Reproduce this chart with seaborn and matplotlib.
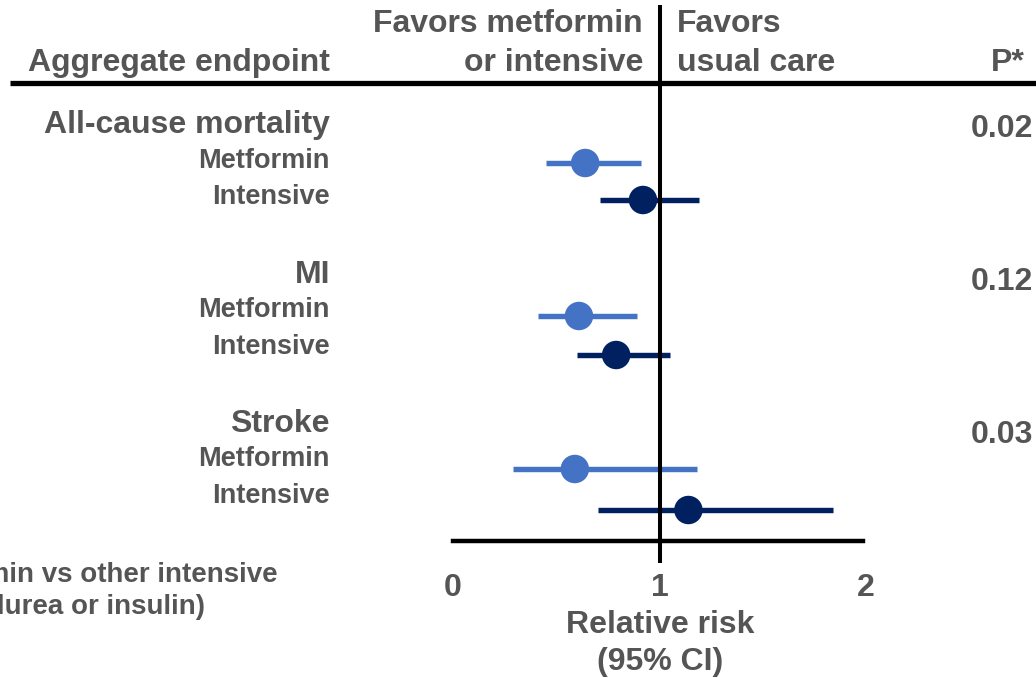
import matplotlib
matplotlib.use("Agg")
import matplotlib.pyplot as plt
import seaborn as sns
import pandas as pd

# Relative risk estimates with 95% confidence intervals
endpoints = ["All-cause mortality", "MI", "Stroke"]
arms = ["Metformin", "Intensive"]
metformin_rr = [0.64, 0.61, 0.59]
metformin_lo = [0.45, 0.41, 0.29]
metformin_hi = [0.91, 0.89, 1.18]
intensive_rr = [0.92, 0.79, 1.14]
intensive_lo = [0.71, 0.60, 0.70]
intensive_hi = [1.19, 1.05, 1.84]
p_values = ["0.02", "0.12", "0.03"]
x_ticks = [0, 1, 2]

sns.set_theme(style="white")
plt.rcParams["font.family"] = ["Liberation Sans", "DejaVu Sans"]

W, H = 1036, 678
TEXT = "#555555"
COLORS = {"Metformin": "#4472C4", "Intensive": "#002060"}

# Row layout (pixel rows from the top of the figure)
rows = []
for g, name in enumerate(endpoints):
    y_met = 163 + 153 * g
    rows.append(dict(endpoint=name, arm="Metformin", rr=metformin_rr[g],
                     lo=metformin_lo[g], hi=metformin_hi[g], y=y_met))
    rows.append(dict(endpoint=name, arm="Intensive", rr=intensive_rr[g],
                     lo=intensive_lo[g], hi=intensive_hi[g], y=y_met + 37 + 2 * g))
df = pd.DataFrame(rows)

fig = plt.figure(figsize=(W / 100, H / 100), dpi=100)

# Forest-plot axes: x from 0 to 2 (relative risk), y in pixel rows
x0_px, x2_px = 453, 866
top_px, bottom_px = 5, 541
ax = fig.add_axes([x0_px / W, 1 - bottom_px / H, (x2_px - x0_px) / W, (bottom_px - top_px) / H])
ax.set_xlim(0, 2)
ax.set_ylim(bottom_px, top_px)
ax.patch.set_alpha(0)
for s in ["top", "left", "right"]:
    ax.spines[s].set_visible(False)
ax.spines["bottom"].set_color("black")
ax.spines["bottom"].set_linewidth(3.2)
ax.spines["bottom"].set_bounds(0, 1.985)
ax.set_yticks([])
ax.set_xticks(x_ticks)
ax.set_xticklabels([str(t) for t in x_ticks], fontsize=23, fontweight="bold", color=TEXT)
ax.tick_params(axis="x", length=0, pad=23)

# Confidence intervals
for _, r in df.iterrows():
    ax.hlines(r["y"], r["lo"], r["hi"], color=COLORS[r["arm"]], lw=3.9, zorder=2)

# Line of no effect
ax.vlines(1, top_px, 563, color="black", lw=2.9, zorder=3, clip_on=False)

# Point estimates
sns.scatterplot(data=df, x="rr", y="y", hue="arm", palette=COLORS, hue_order=arms,
                s=420, linewidth=0, legend=False, ax=ax, zorder=4, clip_on=False)
ax.set_xlabel("")
ax.set_ylabel("")

# Header rule
ax.plot([(10 - x0_px) / (x2_px - x0_px) * 2, (W - x0_px) / (x2_px - x0_px) * 2], [83, 83],
        color="black", lw=3.8, clip_on=False, solid_capstyle="butt", zorder=3)


def ftext(px, py, s, size, ha="right"):
    fig.text(px / W, 1 - py / H, s, fontsize=size, fontweight="bold", color=TEXT,
             ha=ha, va="baseline")


# Column headers
ftext(330, 71, "Aggregate endpoint", 23)
ftext(643, 32, "Favors metformin", 23)
ftext(643, 71, "or intensive", 23)
ftext(677, 32, "Favors", 23, ha="left")
ftext(677, 71, "usual care", 23, ha="left")
ftext(1025, 71, "P*", 23)

# Endpoint labels and P values
for g, name in enumerate(endpoints):
    ftext(330, 133 + 149.5 * g, name, 23)
    ftext(330, 168 + 149 * g, arms[0], 19.5)
    ftext(330, 204 + 149.5 * g, arms[1], 19.5)
    ftext(1033, 137 + 153 * g, p_values[g], 23)

# Axis title
ftext(660, 633, "Relative risk", 23, ha="center")
ftext(660, 670, "(95% CI)", 23, ha="center")

# Footnote
ftext(278, 582, "*Metformin vs other intensive", 20)
ftext(205, 614, "(sulfonylurea or insulin)", 20)

fig.savefig("out.png", dpi=100)
